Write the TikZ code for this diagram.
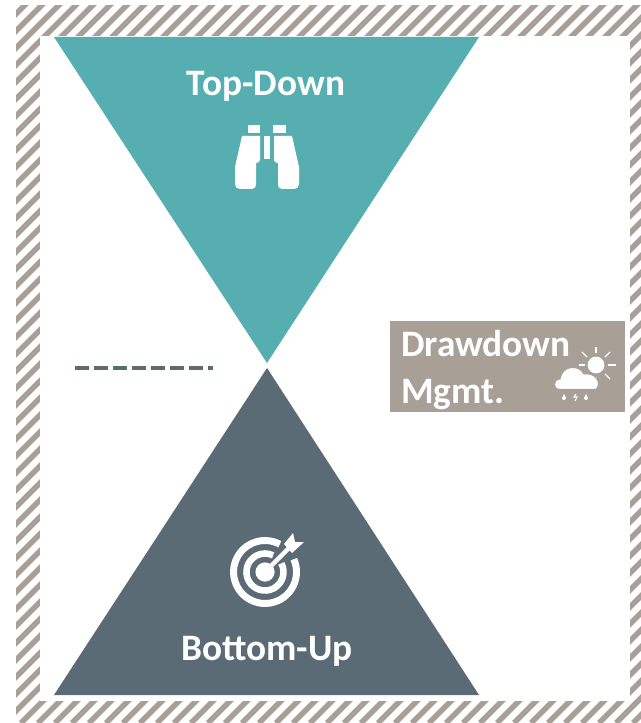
\documentclass[tikz,border=0pt]{standalone}
\usepackage{fontspec}
\setmainfont{Carlito}
\definecolor{teal1}{HTML}{56AEB0}
\definecolor{slate1}{HTML}{5B6B76}
\definecolor{tan1}{HTML}{A89F96}
\tikzset{
  title/.style={text=white,font=\bfseries\fontsize{28}{32}\selectfont,anchor=base,inner sep=0pt},
  boxtext/.style={text=white,font=\bfseries\fontsize{28}{32}\selectfont,anchor=base west,inner sep=0pt},
  hatch/.style={tan1,line width=4.2pt},
  icon/.style={fill=white,draw=none},
  ring/.style={white,line cap=butt},
  ray/.style={white,line width=1pt}
}
\begin{document}
\begin{tikzpicture}[x=.75pt,y=-.75pt]
\useasboundingbox (0,0) rectangle (641,723);
\fill[white] (0,0) rectangle (641,723);
% hatched frame
\begin{scope}
\clip (16,6) rectangle (641,722);
\foreach \k in {0,...,80}{
  \pgfmathsetmacro{\s}{30+17*\k}
  \draw[hatch] (\s,0) -- ({\s-723},723);
}
\end{scope}
\fill[white] (40,36) rectangle (630,701);
% triangles
\fill[teal1] (54,37) -- (479,37) -- (267,363) -- cycle;
\fill[slate1] (54,695) -- (479,695) -- (267,368) -- cycle;
% dashed line
\coordinate (dashA) at (75,368);
\coordinate (dashB) at (213,368);
\draw[slate1,line width=2.4pt,dash pattern=on 10.5pt off 3.75pt] (dashA) -- (dashB);
% labels
\node[title] (top) at (266,95.5) {Top-Down};
\node[title] (bottom) at (267,660) {Bottom-Up};
% binoculars
\fill[icon] (248,125) rectangle (260,133);
\fill[icon] (273,125) rectangle (286,133);
\fill[icon] (264,136) rectangle (270,159);
\fill[icon] (242,136) -- (260,136) -- (260,160) .. controls (260,162) and (258,163) .. (256,163)
  -- (256,184) .. controls (256,187) and (255,189) .. (252,189) -- (240,189)
  .. controls (237,189) and (235,187) .. (235,184) -- (235,167) -- cycle;
\fill[icon] (292,136) -- (274,136) -- (274,160) .. controls (274,162) and (276,163) .. (278,163)
  -- (278,184) .. controls (278,187) and (279,189) .. (282,189) -- (294,189)
  .. controls (297,189) and (299,187) .. (299,184) -- (299,167) -- cycle;
% target
\begin{scope}[shift={(265,572)},x=.75pt,y=.75pt]
  \draw[ring,line width=5.2pt] (24:31.5) arc[start angle=24,end angle=-298,radius=23.6pt];
  \draw[ring,line width=4.9pt] (28:18.5) arc[start angle=28,end angle=-296,radius=13.9pt];
  \fill[icon] (0,0) circle[radius=7.2pt];
  \draw[white,line width=3.2pt] (0,0) -- (24,24);
  \fill[icon] (19,28) -- (28,39) -- (30,30) -- (39,30) -- (27,19) -- cycle;
\end{scope}
% drawdown box
\fill[tan1] (390,321) rectangle (625,412);
\node[boxtext] (dd) at (401,356) {Drawdown};
\node[boxtext] (mg) at (401,403) {Mgmt.};
% sun
\fill[icon] (596,365) circle[radius=6.3pt];
\draw[ray] (596,347) -- (596,353);
\draw[ray] (610,352) -- (605,357);
\draw[ray] (616,365) -- (608,365);
\draw[ray] (610,379) -- (605,374);
\draw[ray] (582,352) -- (587,357);
\draw[ray] (579,365) -- (585,365);
\draw[ray] (596,377) -- (596,383);
% cloud
\path[fill=white,draw=tan1,line width=.8pt] (560,389.5)
  .. controls (552,389.5) and (553,379) .. (560,379)
  .. controls (562,365) and (579,364) .. (584,374)
  .. controls (594,372) and (603,382) .. (596,389.5) -- cycle;
% rain
\fill[icon] (564,394) -- (566,398) arc[start angle=0,end angle=-180,radius=1.5pt] -- cycle;
\fill[icon] (586,394) -- (588,398) arc[start angle=0,end angle=-180,radius=1.5pt] -- cycle;
\draw[white,line width=.8pt] (576,394) -- (574,397) -- (577,397) -- (575,401);
\end{tikzpicture}
\end{document}
